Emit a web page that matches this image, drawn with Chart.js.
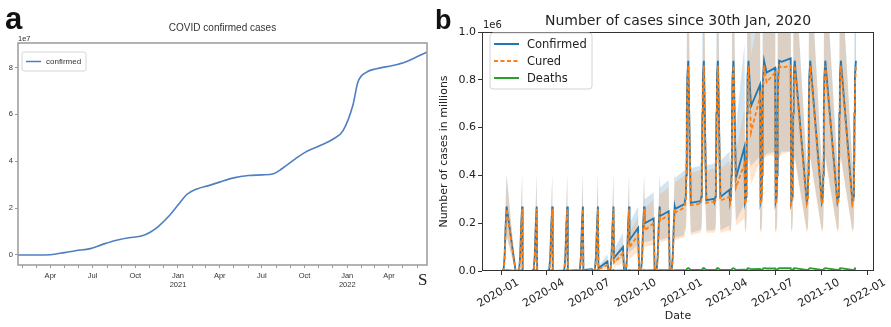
<!DOCTYPE html>
<html><head><meta charset="utf-8">
<script src="https://cdn.jsdelivr.net/npm/chart.js@4.4.1/dist/chart.umd.min.js"></script>
<style>
html,body{margin:0;padding:0;background:#fff;width:891px;height:327px;overflow:hidden;}
canvas{position:absolute;top:0;}
#ca{left:0;}
#cb{left:430px;}
.lbl{position:absolute;font-family:'Liberation Sans',Arial,sans-serif;font-weight:bold;color:#111;line-height:30px;}
</style></head><body>
<canvas id="ca" width="445" height="327"></canvas>
<canvas id="cb" width="461" height="327"></canvas>
<div class="lbl" style="left:5px;top:4px;font-size:31px;">a</div>
<div class="lbl" style="left:435px;top:5px;font-size:27px;">b</div>
<div style="position:absolute;left:418px;top:270px;font-family:'Liberation Serif',serif;font-size:17px;line-height:20px;color:#222;">S</div>
<script>
// ---------------- Panel a : COVID confirmed cases (values in units of 1e7) ----------------
const aDates = ['2020-01-22','2020-03-01','2020-04-01','2020-05-01','2020-05-25','2020-06-26','2020-07-21','2020-08-19','2020-09-17','2020-10-16',
  '2020-11-02','2020-11-20','2020-12-12','2021-01-02','2021-01-20','2021-02-11','2021-03-08','2021-04-02','2021-05-01','2021-06-02',
  '2021-07-01','2021-07-26','2021-08-13','2021-09-11','2021-10-02','2021-11-01','2021-12-01','2021-12-23','2022-01-13','2022-01-24',
  '2022-02-11','2022-03-05','2022-04-09','2022-05-05','2022-05-30','2022-06-22'];
const aConfirmed = [0,0,0.01,0.1,0.18,0.27,0.44,0.62,0.73,0.82,
  0.97,1.22,1.65,2.15,2.58,2.82,2.96,3.12,3.29,3.39,
  3.42,3.47,3.68,4.1,4.38,4.65,4.94,5.31,6.38,7.38,
  7.8,7.95,8.09,8.23,8.45,8.66];
const aTickDates  = ['2020-04-01','2020-07-01','2020-10-01','2021-01-01','2021-04-01','2021-07-01','2021-10-01','2022-01-01','2022-04-01'];
const aTickLabels = [['Apr'],['Jul'],['Oct'],['Jan','2021'],['Apr'],['Jul'],['Oct'],['Jan','2022'],['Apr']];
const aYTicks = [0,2,4,6,8];

// ---------------- Panel b : Number of cases since 30th Jan, 2020 (values in millions) ----------------
const bMonths = ['2020-01','2020-02','2020-03','2020-04','2020-05','2020-06','2020-07','2020-08','2020-09','2020-10','2020-11','2020-12',
                 '2021-01','2021-02','2021-03','2021-04','2021-05','2021-06','2021-07','2021-08','2021-09','2021-10','2021-11','2021-12'];
// spike seen at the start of every month (day of month -> value)
const spikeDays2020    = [2, 6, 8, 10, 12];
const spikeConf2020    = [0, 0.006, 0.06, 0.19, 0.27];
const spikeConfLo2020  = [0, 0.002, 0.03, 0.10, 0.15];
const spikeConfHi2020  = [0, 0.012, 0.10, 0.29, 0.41];
const spikeCured2020   = [0, 0.003, 0.045, 0.17, 0.26];
const spikeCuredLo2020 = [0, 0.001, 0.02, 0.08, 0.14];
const spikeCuredHi2020 = [0, 0.006, 0.07, 0.26, 0.40];
const spikeDeaths2020  = [0, 0.0002, 0.0015, 0.003, 0.004];

const spikeDays2021    = [1, 3, 4, 5, 6, 8];
const spikeConf2021    = [0.29, 0.31, 0.40, 0.66, 0.81, 0.88];
const spikeConfLo2021  = [0.17, 0.18, 0.22, 0.36, 0.44, 0.48];
const spikeConfHi2021  = [0.45, 0.47, 0.62, 1.0, 1.2, 1.3];
const spikeCured2021   = [0.28, 0.295, 0.34, 0.56, 0.77, 0.86];
const spikeCuredLo2021 = [0.16, 0.17, 0.19, 0.31, 0.42, 0.47];
const spikeCuredHi2021 = [0.43, 0.45, 0.52, 0.85, 1.15, 1.28];
const spikeDeaths2021  = [0.0042, 0.0044, 0.005, 0.008, 0.0105, 0.012];

// level between spikes: right after the spike (start) and on the month's last day (end); null = no data
const confStart    = [0,0,0,0,0.001,0.004,0.012,0.055,0.13,0.20,0.23,0.26, 0.285,0.296,0.31,0.39,0.69,0.83,0.875, null,null,null,null,null];
const confEnd      = [0,0,0,0.001,0.003,0.008,0.04,0.10,0.18,0.22,0.25,0.28, 0.292,0.302,0.34,0.52,0.78,0.85,0.89, null,null,null,null,null];
const confLoStart  = [0,0,0,0,0.0005,0.002,0.005,0.03,0.08,0.12,0.13,0.14, 0.16,0.17,0.17,0.21,0.44,0.49,0.5, null,null,null,null,null];
const confLoEnd    = [0,0,0,0.0005,0.0015,0.004,0.02,0.06,0.11,0.13,0.14,0.15, 0.17,0.17,0.19,0.28,0.48,0.5,0.5, null,null,null,null,null];
const confHiStart  = [0,0,0,0,0.002,0.008,0.02,0.09,0.2,0.3,0.35,0.39, 0.43,0.44,0.46,0.6,1.05,1.2,1.28, null,null,null,null,null];
const confHiEnd    = [0,0,0,0.002,0.005,0.015,0.07,0.16,0.27,0.33,0.38,0.42, 0.44,0.45,0.5,0.95,1.15,1.25,1.3, null,null,null,null,null];
const curedStart   = [0,0,0,0,0.0005,0.002,0.007,0.035,0.10,0.17,0.21,0.245, 0.275,0.285,0.295,0.35,0.58,0.79,0.85, null,null,null,null,null];
const curedEnd     = [0,0,0,0.0003,0.0015,0.005,0.025,0.075,0.15,0.20,0.235,0.265, 0.282,0.29,0.31,0.45,0.73,0.83,0.86, null,null,null,null,null];
const curedLoStart = [0,0,0,0,0.0002,0.001,0.003,0.015,0.05,0.1,0.12,0.13, 0.15,0.16,0.16,0.19,0.36,0.48,0.49, null,null,null,null,null];
const curedLoEnd   = [0,0,0,0.0001,0.0007,0.002,0.01,0.035,0.08,0.11,0.13,0.14, 0.16,0.16,0.17,0.22,0.46,0.49,0.5, null,null,null,null,null];
const curedHiStart = [0,0,0,0,0.001,0.004,0.015,0.06,0.16,0.26,0.32,0.37, 0.41,0.42,0.43,0.5,0.9,1.15,1.22, null,null,null,null,null];
const curedHiEnd   = [0,0,0,0.0006,0.003,0.01,0.05,0.12,0.23,0.3,0.35,0.4, 0.42,0.43,0.46,0.68,1.1,1.2,1.25, null,null,null,null,null];
const deathsStart  = [0,0,0,0,0,0.0003,0.0006,0.0013,0.0022,0.003,0.0034,0.0038, 0.0041,0.0042,0.0043,0.0048,0.0075,0.0105,0.0115, null,null,null,null,null];
const deathsEnd    = [0,0,0,0,0.0002,0.0005,0.001,0.002,0.0028,0.0033,0.0037,0.004, 0.0042,0.0043,0.0045,0.0058,0.0088,0.011,0.012, null,null,null,null,null];
const firstResumeDay = 30;   // first month: data resumes on Jan 30
const resumeDay = 13;

const bTickLabels = ['2020-01','2020-04','2020-07','2020-10','2021-01','2021-04','2021-07','2021-10','2022-01'];
const bYTicks = [0, 0.2, 0.4, 0.6, 0.8, 1.0];
const bLabels = ['Confirmed','Cured','Deaths'];

// ---------------- helpers ----------------
const DAY0 = Date.UTC(2020,0,1);
function dayOf(s){ const p = s.split('-').map(Number); return (Date.UTC(p[0], p[1]-1, p[2]||1) - DAY0)/86400000; }
function lastDay(y,m){ return new Date(Date.UTC(y, m, 0)).getUTCDate(); }

// build panel b point lists
const prof = {
  2020: {days: spikeDays2020, conf: spikeConf2020, confLo: spikeConfLo2020, confHi: spikeConfHi2020,
         cured: spikeCured2020, curedLo: spikeCuredLo2020, curedHi: spikeCuredHi2020, deaths: spikeDeaths2020},
  2021: {days: spikeDays2021, conf: spikeConf2021, confLo: spikeConfLo2021, confHi: spikeConfHi2021,
         cured: spikeCured2021, curedLo: spikeCuredLo2021, curedHi: spikeCuredHi2021, deaths: spikeDeaths2021}
};
const levels = {
  conf: [confStart, confEnd], confLo: [confLoStart, confLoEnd], confHi: [confHiStart, confHiEnd],
  cured: [curedStart, curedEnd], curedLo: [curedLoStart, curedLoEnd], curedHi: [curedHiStart, curedHiEnd],
  deaths: [deathsStart, deathsEnd]
};
const keys = Object.keys(levels);
const pts = {}; keys.forEach(k => pts[k] = []);
bMonths.forEach((ms, i) => {
  const [y, m] = ms.split('-').map(Number);
  const P = prof[y];
  P.days.forEach((d, j) => { const x = dayOf(ms + '-' + d); keys.forEach(k => pts[k].push({x, y: P[k][j]})); });
  if (confStart[i] !== null) {
    const x1 = dayOf(ms + '-' + (i === 0 ? firstResumeDay : resumeDay));
    const x2 = dayOf(ms + '-' + lastDay(y, m));
    keys.forEach(k => { pts[k].push({x: x1, y: levels[k][0][i]}); pts[k].push({x: x2, y: levels[k][1][i]}); });
  }
});

Chart.defaults.animation = false;
Chart.defaults.devicePixelRatio = 1;

// ---------------- Panel a chart ----------------
const aMinorTicks = [];
for (let y = 2020, m = 2; y < 2022 || m <= 6; ) { aMinorTicks.push(dayOf(y + '-' + m + '-1')); m++; if (m > 12) { m = 1; y++; } }
const aMajorDays = aTickDates.map(dayOf);
const aFont = {family: "'Liberation Sans', Arial, sans-serif", size: 7.5, lineHeight: 1.25};

const panelAPlugin = {
  id: 'panelA',
  afterDraw(chart) {
    const {ctx, chartArea: ca} = chart;
    ctx.save();
    ctx.strokeStyle = '#9a9a9a'; ctx.lineWidth = 1.5;
    ctx.strokeRect(ca.left, ca.top, ca.right - ca.left, ca.bottom - ca.top);
    ctx.fillStyle = '#333';
    ctx.font = "10px 'Liberation Sans', Arial, sans-serif";
    ctx.textAlign = 'center'; ctx.textBaseline = 'alphabetic';
    ctx.fillText('COVID confirmed cases', (ca.left + ca.right) / 2, 31);
    ctx.font = "7.5px 'Liberation Sans', Arial, sans-serif";
    ctx.textAlign = 'left';
    ctx.fillText('1e7', ca.left, 41);
    // legend
    const lx = ca.left + 4, ly = ca.top + 9;
    ctx.fillStyle = 'rgba(255,255,255,0.85)'; ctx.strokeStyle = '#d6d6d6'; ctx.lineWidth = 1;
    ctx.beginPath(); ctx.roundRect(lx, ly, 64, 19, 2); ctx.fill(); ctx.stroke();
    const ds = chart.data.datasets[0];
    ctx.strokeStyle = ds.borderColor; ctx.lineWidth = 1.5;
    ctx.beginPath(); ctx.moveTo(lx + 4, ly + 9.5); ctx.lineTo(lx + 19, ly + 9.5); ctx.stroke();
    ctx.fillStyle = '#333'; ctx.font = "8px 'Liberation Sans', Arial, sans-serif";
    ctx.textBaseline = 'middle';
    ctx.fillText(ds.label, lx + 24, ly + 10);
    ctx.restore();
  }
};

new Chart(document.getElementById('ca'), {
  type: 'line',
  data: {datasets: [{
    label: 'confirmed',
    data: aDates.map((d, i) => ({x: dayOf(d), y: aConfirmed[i]})),
    borderColor: '#4f7fc0', borderWidth: 1.6, pointRadius: 0, fill: false,
    cubicInterpolationMode: 'monotone'
  }]},
  options: {
    responsive: false,
    layout: {padding: {left: 0, top: 43, right: 18, bottom: 0}},
    plugins: {legend: {display: false}, tooltip: {enabled: false}},
    scales: {
      x: {
        type: 'linear', min: dayOf('2020-01-22'), max: dayOf('2022-06-22'),
        afterBuildTicks: s => { s.ticks = aMinorTicks.map(v => ({value: v})); },
        afterFit: s => { s.height = 62; s.paddingLeft = 0; s.paddingRight = 0; },
        ticks: {
          autoSkip: false, maxRotation: 0, minRotation: 0, padding: 3, color: '#333', font: aFont,
          callback: (v) => { const k = aMajorDays.indexOf(v); return k >= 0 ? aTickLabels[k] : ''; }
        },
        grid: {drawOnChartArea: false, drawTicks: true, tickLength: 3, color: '#9a9a9a', lineWidth: 1},
        border: {display: false}
      },
      y: {
        type: 'linear', min: -0.43, max: 9.05,
        afterBuildTicks: s => { s.ticks = aYTicks.map(v => ({value: v})); },
        afterFit: s => { s.width = 18; s.paddingTop = 0; s.paddingBottom = 0; },
        ticks: {padding: 2, color: '#333', font: aFont, callback: v => String(v)},
        grid: {drawOnChartArea: false, drawTicks: true, tickLength: 3, color: '#9a9a9a', lineWidth: 1},
        border: {display: false}
      }
    }
  },
  plugins: [panelAPlugin]
});

// ---------------- Panel b chart ----------------
const bFont = {family: "'DejaVu Sans', sans-serif", size: 11};
const panelBPlugin = {
  id: 'panelB',
  afterDraw(chart) {
    const {ctx, chartArea: ca} = chart;
    ctx.save();
    ctx.strokeStyle = '#333'; ctx.lineWidth = 1;
    ctx.strokeRect(ca.left + 0.5, ca.top + 0.5, ca.right - ca.left - 1, ca.bottom - ca.top - 1);
    ctx.fillStyle = '#222';
    ctx.font = "14px 'DejaVu Sans', sans-serif";
    ctx.textAlign = 'center'; ctx.textBaseline = 'alphabetic';
    ctx.fillText('Number of cases since 30th Jan, 2020', (ca.left + ca.right) / 2, 25);
    ctx.font = "10px 'DejaVu Sans', sans-serif";
    ctx.textAlign = 'left';
    ctx.fillText('1e6', ca.left + 1, 28);
    // legend
    const lx = ca.left + 8, ly = ca.top + 1;
    ctx.fillStyle = 'rgba(255,255,255,0.8)'; ctx.strokeStyle = '#d4d4d4'; ctx.lineWidth = 1;
    ctx.beginPath(); ctx.roundRect(lx, ly, 102, 56, 3); ctx.fill(); ctx.stroke();
    const lineSets = [4, 5, 6].map(i => chart.data.datasets[i]);
    ctx.font = "11.5px 'DejaVu Sans', sans-serif"; ctx.textBaseline = 'middle';
    lineSets.forEach((ds, i) => {
      const yy = ly + 11 + i * 17;
      ctx.strokeStyle = ds.borderColor; ctx.lineWidth = 2;
      ctx.setLineDash(ds.borderDash || []);
      ctx.beginPath(); ctx.moveTo(lx + 4, yy); ctx.lineTo(lx + 29, yy); ctx.stroke();
      ctx.setLineDash([]);
      ctx.fillStyle = '#222';
      ctx.fillText(ds.label, lx + 37, yy + 1);
    });
    ctx.restore();
  }
};

const bTickDays = bTickLabels.map(dayOf);
const clear = 'rgba(0,0,0,0)';
new Chart(document.getElementById('cb'), {
  type: 'line',
  data: {datasets: [
    {label: 'confHi', data: pts.confHi, fill: '+1', backgroundColor: 'rgba(31,119,180,0.2)', borderColor: clear, borderWidth: 1, pointRadius: 0, order: 6},
    {label: 'confLo', data: pts.confLo, fill: false, borderColor: clear, borderWidth: 1, pointRadius: 0, order: 6},
    {label: 'curedHi', data: pts.curedHi, fill: '+1', backgroundColor: 'rgba(255,127,14,0.2)', borderColor: clear, borderWidth: 1, pointRadius: 0, order: 5},
    {label: 'curedLo', data: pts.curedLo, fill: false, borderColor: clear, borderWidth: 1, pointRadius: 0, order: 5},
    {label: bLabels[0], data: pts.conf, fill: false, borderColor: '#1f77b4', borderWidth: 1.8, pointRadius: 0, order: 3},
    {label: bLabels[1], data: pts.cured, fill: false, borderColor: '#ff7f0e', borderDash: [4, 2.5], borderWidth: 1.8, pointRadius: 0, order: 2},
    {label: bLabels[2], data: pts.deaths, fill: false, borderColor: '#2ca02c', borderWidth: 1.8, pointRadius: 0, order: 1}
  ]},
  options: {
    responsive: false,
    layout: {padding: {left: 0, top: 32, right: 17, bottom: 0}},
    plugins: {legend: {display: false}, tooltip: {enabled: false}},
    scales: {
      x: {
        type: 'linear', min: -38, max: 743,
        afterBuildTicks: s => { s.ticks = bTickDays.map(v => ({value: v})); },
        afterFit: s => { s.height = 56; s.paddingLeft = 0; s.paddingRight = 0; },
        ticks: {autoSkip: false, maxRotation: 30, minRotation: 30, padding: 1, labelOffset: 17, color: '#222', font: bFont,
                callback: (v, i) => bTickLabels[i]},
        grid: {drawOnChartArea: false, drawTicks: true, tickLength: 4, color: '#333', lineWidth: 1},
        border: {display: false},
        title: {display: true, text: 'Date', color: '#222', font: {family: "'DejaVu Sans', sans-serif", size: 11}, padding: {top: 0, bottom: 4}}
      },
      y: {
        type: 'linear', min: 0, max: 1.0,
        afterBuildTicks: s => { s.ticks = bYTicks.map(v => ({value: v})); },
        afterFit: s => { s.width = 52; s.paddingTop = 0; s.paddingBottom = 0; },
        ticks: {padding: 2, color: '#222', font: bFont, callback: v => v.toFixed(1)},
        grid: {drawOnChartArea: false, drawTicks: true, tickLength: 4, color: '#333', lineWidth: 1},
        border: {display: false},
        title: {display: true, text: 'Number of cases in millions', color: '#222', font: {family: "'DejaVu Sans', sans-serif", size: 11}, padding: {top: 8, bottom: 0}}
      }
    }
  },
  plugins: [panelBPlugin]
});
</script>
</body></html>
